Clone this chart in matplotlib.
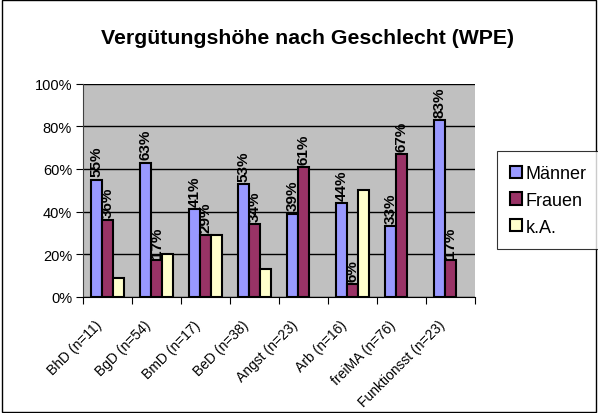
import numpy as np
import matplotlib.pyplot as plt
from matplotlib.patches import Rectangle

plt.rcParams['font.family'] = ['Liberation Sans', 'DejaVu Sans']

categories = ['BhD (n=11)', 'BgD (n=54)', 'BmD (n=17)', 'BeD (n=38)',
              'Angst (n=23)', 'Arb (n=16)', 'freiMA (n=76)', 'Funktionsst (n=23)']
maenner = [55, 63, 41, 53, 39, 44, 33, 83]
frauen = [36, 17, 29, 34, 61, 6, 67, 17]
ka = [9, 20, 29, 13, 0, 50, 0, 0]

fig = plt.figure(figsize=(5.98, 4.14), dpi=100)
fig.patches.append(Rectangle((0.003, 0.003), 0.994, 0.994, transform=fig.transFigure,
                             fill=False, edgecolor='black', lw=1))
ax = fig.add_axes([0.139, 0.281, 0.655, 0.514])
ax.set_facecolor('#c0c0c0')

x = np.arange(len(categories))
w = 0.224
series = [(maenner, '#9999ff', 'Männer', True),
          (frauen, '#993366', 'Frauen', True),
          (ka, '#ffffcc', 'k.A.', False)]
for i, (vals, col, name, lab) in enumerate(series):
    pos = x + (i - 1) * w
    v = np.array(vals, dtype=float)
    mask = v > 0
    ax.bar(pos[mask], v[mask], w, color=col, edgecolor='black', lw=1.5,
           label=name, zorder=3)
    if lab:
        for p, val in zip(pos[mask], v[mask]):
            ax.text(p, val + 1.5, '%d%%' % val, rotation=90, ha='center', va='bottom',
                    fontsize=11, fontweight='bold', zorder=4)

ax.set_xlim(-0.5, len(categories) - 0.5)
ax.set_ylim(0, 100)
ax.set_yticks(np.arange(0, 101, 20))
ax.set_yticklabels(['%d%%' % t for t in range(0, 101, 20)], fontsize=10.5)
ax.yaxis.grid(True, color='black', lw=1, zorder=1)
ax.set_xticks(np.arange(-0.5, len(categories)))
ax.set_xticklabels([])
ax.tick_params(axis='x', length=5, color='black')
ax.tick_params(axis='y', length=5, color='black', pad=3)
for i, c in enumerate(categories):
    ax.annotate(c, xy=(i, 0), xycoords=('data', 'axes fraction'),
                xytext=(-2, -15), textcoords='offset points',
                rotation=45, ha='right', va='top', fontsize=10)
for s in ['top', 'right']:
    ax.spines[s].set_visible(False)
ax.spines['left'].set_color('#404040')
ax.spines['bottom'].set_color('black')

fig.text(0.515, 0.908, 'Vergütungshöhe nach Geschlecht (WPE)', ha='center', va='center',
         fontsize=15.3, fontweight='bold')

leg = fig.legend(loc='upper left', bbox_to_anchor=(0.831, 0.632), fontsize=13,
                 frameon=True, fancybox=False, edgecolor='black', handlelength=0.65,
                 handleheight=0.65, handletextpad=0.2, labelspacing=0.55, borderpad=0.75,
                 borderaxespad=0)
leg.get_frame().set_linewidth(0.8)

fig.savefig('out.png', dpi=100)
